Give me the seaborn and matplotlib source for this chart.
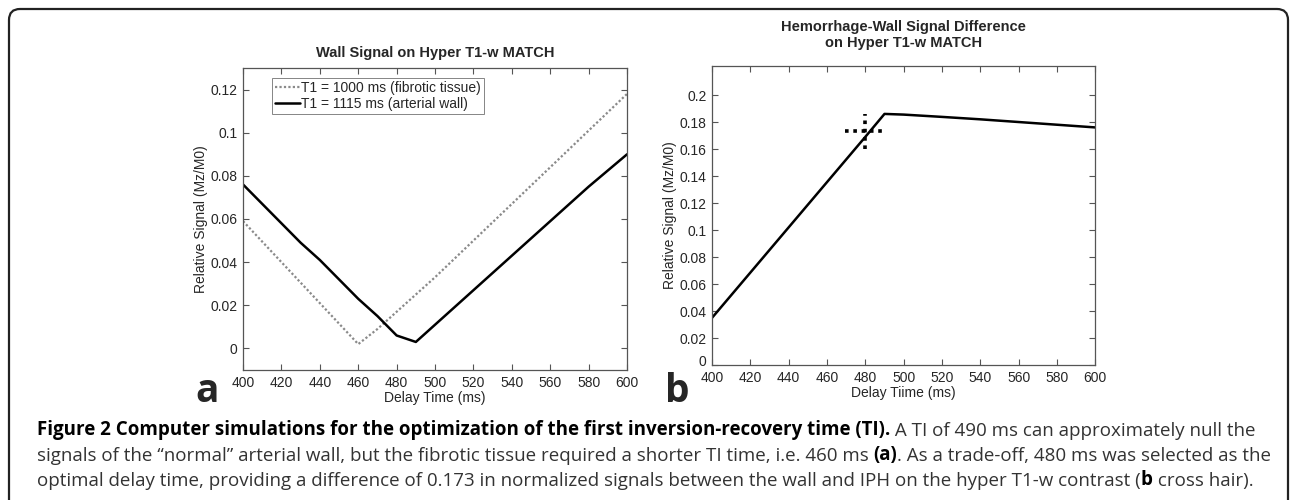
import numpy as np
import pandas as pd
import matplotlib
matplotlib.use("Agg")
import matplotlib.pyplot as plt
import matplotlib.transforms as mtransforms
import seaborn as sns
from matplotlib.patches import FancyBboxPatch
from matplotlib.ticker import FuncFormatter

# panel a: wall signal vs delay time
delay_a = [400, 410, 420, 430, 440, 450, 460, 470, 480, 490, 500, 520, 540, 560, 580, 600]
fibrotic = [0.059, 0.0495, 0.040, 0.0305, 0.021, 0.0115, 0.002, 0.009, 0.017, 0.025, 0.033,
            0.050, 0.067, 0.084, 0.101, 0.118]
arterial = [0.076, 0.067, 0.058, 0.049, 0.041, 0.032, 0.023, 0.015, 0.006, 0.003, 0.011,
            0.027, 0.043, 0.059, 0.075, 0.090]

# panel b: hemorrhage-wall difference
delay_b = [400, 420, 440, 460, 480, 490, 500, 520, 540, 560, 580, 600]
difference = [0.035, 0.0685, 0.102, 0.1355, 0.169, 0.186, 0.1855, 0.1838, 0.182, 0.180, 0.178, 0.176]

# cross hair (selected TI)
cross_x, cross_y = 480, 0.173
cross_dx, cross_dy = 10.5, 0.013

caption = [
    [("Figure 2 Computer simulations for the optimization of the first inversion-recovery time (TI).", "bold"),
     (" A TI of 490 ms can approximately null the", "normal")],
    [("signals of the \u201cnormal\u201d arterial wall, but the fibrotic tissue required a shorter TI time, i.e. 460 ms ", "normal"),
     ("(a)", "bold"),
     (". As a trade-off, 480 ms was selected as the", "normal")],
    [("optimal delay time, providing a difference of 0.173 in normalized signals between the wall and IPH on the hyper T1-w contrast (", "normal"),
     ("b", "bold"),
     (" cross hair).", "normal")],
]

sns.set_theme(style="ticks")
plt.rcParams['font.family'] = ['Liberation Sans', 'DejaVu Sans']
plt.rcParams['xtick.direction'] = 'in'
plt.rcParams['ytick.direction'] = 'in'

fig = plt.figure(figsize=(12.9, 5), dpi=100)

# background frame in pixel coordinates
bg = fig.add_axes([0, 0, 1, 1])
bg.set_xlim(0, 1290)
bg.set_ylim(500, 0)
bg.axis('off')
bg.add_patch(FancyBboxPatch((9, 9), 1279, 560, boxstyle="round,pad=0,rounding_size=11",
                            fc='white', ec='#222222', lw=1.6))

fmt = FuncFormatter(lambda v, _: f"{v:g}")


def style_axes(ax):
    for s in ax.spines.values():
        s.set_color('#555555')
        s.set_linewidth(0.9)
    ax.tick_params(which='both', top=True, right=True, length=4, width=0.8,
                   color='#555555', labelsize=10, pad=4)
    ax.yaxis.set_major_formatter(fmt)


# ---- panel a
ax1 = fig.add_axes([0.1884, 0.26, 0.2977, 0.604])
sns.lineplot(x=delay_a, y=fibrotic, ax=ax1, color='#8a8a8a', linestyle=(0, (1, 1)), lw=1.6,
             label='T1 = 1000 ms (fibrotic tissue)')
sns.lineplot(x=delay_a, y=arterial, ax=ax1, color='black', lw=1.8,
             label='T1 = 1115 ms (arterial wall)')
ax1.set_xlim(400, 600)
ax1.set_ylim(-0.01, 0.13)
ax1.set_xticks(np.arange(400, 601, 20))
ax1.set_yticks(np.arange(0, 0.121, 0.02))
style_axes(ax1)
ax1.set_xlabel('Delay Time (ms)', fontsize=10, labelpad=1)
ax1.set_ylabel('Relative Signal (Mz/M0)', fontsize=10, labelpad=2)
ax1.set_title('Wall Signal on Hyper T1-w MATCH', fontsize=10.5, fontweight='bold', pad=8)
leg = ax1.legend(loc='upper left', bbox_to_anchor=(0.075, 0.967), fontsize=10, frameon=True,
                 fancybox=False, edgecolor='#666666', handlelength=1.8, handletextpad=0.1,
                 borderpad=0.2, labelspacing=0.15, borderaxespad=0)
leg.get_frame().set_linewidth(0.7)

# ---- panel b
ax2 = fig.add_axes([0.552, 0.27, 0.297, 0.598])
sns.lineplot(x=delay_b, y=difference, ax=ax2, color='black', lw=1.8)
ax2.plot([cross_x - cross_dx, cross_x + cross_dx], [cross_y, cross_y], color='black',
         lw=2.6, linestyle=(0, (1, 1.3)))
ax2.plot([cross_x, cross_x], [cross_y - cross_dy, cross_y + cross_dy], color='black',
         lw=2.6, linestyle=(0, (1, 1.3)))
ax2.set_xlim(400, 600)
ax2.set_ylim(0, 0.2215)
ax2.set_xticks(np.arange(400, 601, 20))
ax2.set_yticks(np.arange(0, 0.201, 0.02))
style_axes(ax2)
ax2.set_xlabel('Delay Tiime (ms)', fontsize=10, labelpad=1)
ax2.set_ylabel('Relative Signal (Mz/M0)', fontsize=10, labelpad=2)
ax2.set_title('Hemorrhage-Wall Signal Difference\non Hyper T1-w MATCH', fontsize=10.5,
              fontweight='bold', pad=14, linespacing=1.15)
# lift the "0" label a little, like the original
zero_lab = ax2.get_yticklabels()[0]
zero_lab.set_transform(zero_lab.get_transform() +
                       mtransforms.ScaledTranslation(0, 4 / 100, fig.dpi_scale_trans))

# panel letters
bg.text(207, 392, 'a', fontsize=28, fontweight='bold', ha='center', va='center',
        family=['Open Sans', 'DejaVu Sans'])
bg.text(677, 392, 'b', fontsize=28, fontweight='bold', ha='center', va='center',
        family=['Open Sans', 'DejaVu Sans'])

# caption with mixed weights
for row, y in zip(caption, [430, 456, 481]):
    prev = None
    for txt, w in row:
        col = 'black' if w == 'bold' else '#333333'
        if prev is None:
            prev = bg.text(37, y, txt, fontsize=13.5, fontweight=w, color=col, ha='left',
                           va='center', family=['Open Sans', 'DejaVu Sans'])
        else:
            prev = bg.annotate(txt, xy=(1, 0), xycoords=prev, fontsize=13.5, fontweight=w,
                               color=col, ha='left', va='bottom',
                               family=['Open Sans', 'DejaVu Sans'])

fig.savefig('out.png', dpi=100)
